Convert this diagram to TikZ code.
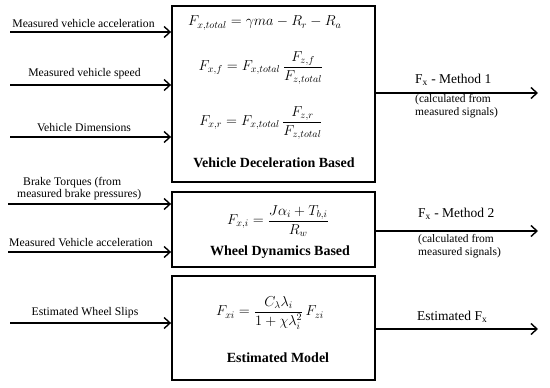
\documentclass[tikz,border=0pt]{standalone}
\usepackage{amsmath}
\usepackage{fontspec}
\setmainfont{Liberation Serif}
\usetikzlibrary{arrows.meta}
\tikzset{
  blk/.style={draw, line width=1.8pt, inner sep=0pt},
  arr/.style={line width=1.5pt, -{Straight Barb[length=6pt,width=11pt,line width=1.4pt]}},
  lbl/.style={font=\fontsize{11.7}{12}\selectfont, inner sep=0pt},
  big/.style={font=\fontsize{13.5}{15}\selectfont, inner sep=0pt},
  sml/.style={font=\fontsize{11.5}{13}\selectfont, inner sep=0pt, align=left},
  ttl/.style={font=\fontsize{14}{16}\selectfont\bfseries, inner sep=0pt},
  eq/.style={font=\fontsize{14.2}{16}\selectfont, inner sep=0pt},
}
\begin{document}
\begin{tikzpicture}[x=1pt,y=-1pt]
\useasboundingbox (0,0) rectangle (550,388);
% boxes
\node[blk, minimum width=203pt, minimum height=176pt] (b1) at (273.5,94) {};
\node[blk, minimum width=203pt, minimum height=75pt] (b2) at (273.5,229.5) {};
\node[blk, minimum width=203pt, minimum height=104pt] (b3) at (273.5,328) {};
% box 1 content
\node[eq, anchor=west] (e11) at (188,23) {$F_{x,total}=\gamma m a-R_r-R_a$};
\node[eq] (e12) at (261,68) {$F_{x,f}=F_{x,total}\,\dfrac{F_{z,f}}{F_{z,total}}$};
\node[eq] (e13) at (261,123) {$F_{x,r}=F_{x,total}\,\dfrac{F_{z,r}}{F_{z,total}}$};
\node[ttl] (t1) at (274,163) {Vehicle Deceleration Based};
% box 2 content
\node[eq] (e2) at (278,221) {$F_{x,i}=\dfrac{J\alpha_i+T_{b,i}}{R_w}$};
\node[ttl] (t2) at (280,252) {Wheel Dynamics Based};
% box 3 content
\node[eq] (e3) at (270,313) {$F_{xi}=\dfrac{C_\lambda\lambda_i}{1+\chi\lambda_i^2}\,F_{zi}$};
\node[ttl] (t3) at (278,358) {Estimated Model};
% inputs
\coordinate (s1) at (10,32);
\coordinate (s2) at (10,85);
\coordinate (s3) at (10,137);
\coordinate (s4) at (8,204);
\coordinate (s5) at (8,252);
\coordinate (s6) at (10,323);
\draw[arr] (s1) -- (s1 -| b1.west);
\draw[arr] (s2) -- (s2 -| b1.west);
\draw[arr] (s3) -- (s3 -| b1.west);
\draw[arr] (s4) -- (s4 -| b2.west);
\draw[arr] (s5) -- (s5 -| b2.west);
\draw[arr] (s6) -- (s6 -| b3.west);
\node[lbl] (l1) at (83.5,23) {Measured vehicle acceleration};
\node[lbl] (l2) at (84.5,74) {Measured vehicle speed};
\node[lbl] (l3) at (84,128) {Vehicle Dimensions};
\node[lbl, align=left, anchor=west] (l4) at (17,189) {\hspace*{6pt}Brake Torques (from\\measured brake pressures)};
\node[lbl] (l5) at (81,243) {Measured Vehicle acceleration};
\node[lbl] (l6) at (85,313) {Estimated Wheel Slips};
% outputs
\coordinate (o1) at (538,93);
\coordinate (o2) at (538,231);
\coordinate (o3) at (538,329);
\draw[arr] (o1 -| b1.east) -- (o1);
\draw[arr] (o2 -| b2.east) -- (o2);
\draw[arr] (o3 -| b3.east) -- (o3);
\node[big, anchor=west] (r1) at (415,80) {F\textsubscript{x} - Method 1};
\node[sml, anchor=west] (r1b) at (415,106.5) {(calculated from\\measured signals)};
\node[big, anchor=west] (r2) at (418,214) {F\textsubscript{x} - Method 2};
\node[sml, anchor=west] (r2b) at (418,246.5) {(calculated from\\measured signals)};
\node[big, anchor=west] (r3) at (417,317) {Estimated F\textsubscript{x}};
\end{tikzpicture}
\end{document}
